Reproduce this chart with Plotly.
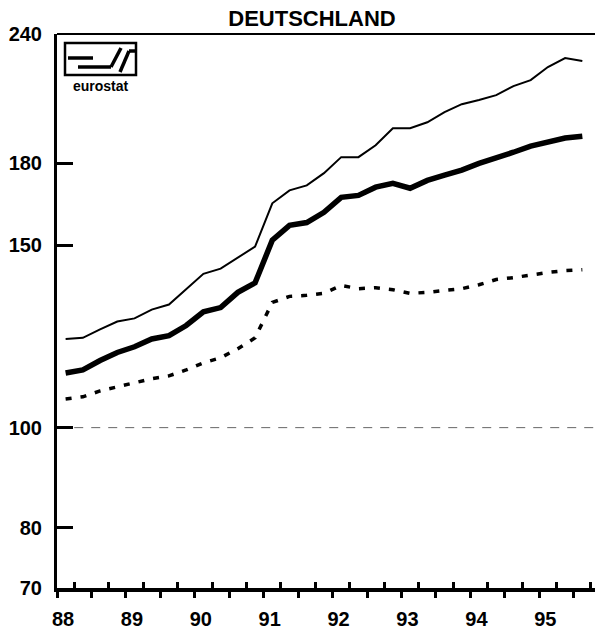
import plotly.graph_objects as go

# ---- data (quarterly, 1988 Q1 .. 1995 Q3) ----
years = [1988, 1989, 1990, 1991, 1992, 1993, 1994, 1995]
year_labels = ["88", "89", "90", "91", "92", "93", "94", "95"]
quarters = [f"{y} Q{q}" for y in years for q in (1, 2, 3, 4)][:31]

series_upper = [121.8, 122.1, 124.4, 126.6, 127.5, 130.0, 131.5, 136.2, 140.8, 142.4,
                146.0, 149.6, 164.7, 169.5, 171.4, 176.1, 182.5, 182.5, 187.4, 194.6,
                194.6, 197.2, 201.7, 205.3, 207.2, 209.5, 213.7, 216.6, 223.0, 227.5, 226.0]
series_main = [112.9, 113.7, 116.1, 118.2, 119.7, 121.8, 122.7, 125.5, 129.4, 130.6,
               135.1, 138.0, 151.7, 156.8, 157.8, 161.4, 166.9, 167.6, 170.7, 172.2,
               170.3, 173.3, 175.3, 177.3, 180.0, 182.1, 184.5, 187.0, 188.7, 190.4, 191.2]
series_lower = [106.6, 107.1, 108.5, 109.5, 110.5, 111.5, 112.2, 113.7, 115.5, 116.8,
                119.2, 122.1, 132.1, 133.9, 134.2, 134.8, 137.2, 136.2, 136.5, 135.9,
                134.8, 135.1, 135.7, 136.2, 137.4, 139.0, 139.6, 140.5, 141.2, 141.8, 142.1]

y_ticks = [70, 80, 100, 150, 180, 240]
y_tick_labels = ["70", "80", "100", "150", "180", "240"]
base_value = 100
title_text = "DEUTSCHLAND"


def quarter_pos(label):
    y, q = label.split(" Q")
    return int(y) + (int(q) - 0.5) / 4.0


x = [quarter_pos(q) for q in quarters]
x_range = [1988.0, 1995.925]

fig = go.Figure()

fig.add_trace(go.Scatter(x=[1988.25, x_range[1]], y=[base_value, base_value], mode="lines",
                         line=dict(color="#666666", width=1, dash="9px,8px"),
                         hoverinfo="skip", showlegend=False))
fig.add_trace(go.Scatter(x=x, y=series_lower, mode="lines",
                         line=dict(color="black", width=3.5, dash="6px,9px"),
                         showlegend=False))
fig.add_trace(go.Scatter(x=x, y=series_upper, mode="lines",
                         line=dict(color="black", width=2),
                         showlegend=False))
fig.add_trace(go.Scatter(x=x, y=series_main, mode="lines",
                         line=dict(color="black", width=5.5),
                         showlegend=False))

major_vals, major_text = [], []
for yr, lab in zip(years, year_labels):
    major_vals += [yr, yr + 0.5]
    major_text += [lab, ""]
minor_vals = [yr + d for yr in years for d in (0.25, 0.75)]

# page has an 8px body margin; figure coordinates = page coordinates - 8
OFF = 8
W, H = 603 - OFF, 633 - OFF
L, R, T, B = 57 - OFF, 603 - OFF, 34 - OFF, 588 - OFF


def px(xp):  # page px -> paper
    return (xp - OFF - L) / (R - L)


def py(yp):
    return (B - (yp - OFF)) / (B - T)


logo_line = dict(color="black", width=3.5)
shapes = [
    dict(type="line", xref="paper", yref="paper", x0=0, x1=1, y0=1, y1=1,
         line=dict(color="black", width=2)),
    # eurostat logo
    dict(type="rect", xref="paper", yref="paper", x0=px(65), x1=px(136), y0=py(75), y1=py(43),
         line=dict(color="black", width=2.5)),
    dict(type="line", xref="paper", yref="paper", x0=px(68), x1=px(93), y0=py(58), y1=py(58),
         line=logo_line),
    dict(type="line", xref="paper", yref="paper", x0=px(78), x1=px(111), y0=py(67), y1=py(67),
         line=logo_line),
    dict(type="line", xref="paper", yref="paper", x0=px(111), x1=px(121), y0=py(67), y1=py(48),
         line=logo_line),
    dict(type="line", xref="paper", yref="paper", x0=px(120), x1=px(129), y0=py(72), y1=py(51),
         line=logo_line),
    dict(type="line", xref="paper", yref="paper", x0=px(129), x1=px(136), y0=py(51), y1=py(51),
         line=logo_line),
]

annotations = [
    dict(text="<b>eurostat</b>", xref="paper", yref="paper", x=px(100.5), y=py(86),
         showarrow=False, font=dict(family="Liberation Sans, Arial", size=14, color="black"),
         xanchor="center", yanchor="middle"),
]

fig.update_layout(
    width=W, height=H,
    margin=dict(l=L, r=W - R, t=T, b=H - B, autoexpand=False),
    paper_bgcolor="white", plot_bgcolor="white",
    title=dict(text=f"<b>{title_text}</b>", x=(312 - OFF) / W, xanchor="center",
               y=1 - (18 - OFF) / H, yanchor="middle",
               font=dict(family="Liberation Sans, Arial", size=22, color="black")),
    font=dict(family="Liberation Sans, Arial", color="black"),
    shapes=shapes,
    annotations=annotations,
    xaxis=dict(range=x_range, showgrid=False, zeroline=False,
               showline=True, linecolor="black", linewidth=4,
               tickvals=major_vals, ticktext=major_text,
               ticks="outside", ticklen=6, tickwidth=3, tickcolor="black",
               ticklabelshift=6, ticklabelstandoff=4,
               tickfont=dict(size=20, family="Liberation Sans, Arial", color="black", weight="bold"),
               minor=dict(tickvals=minor_vals, ticks="inside", ticklen=6, tickwidth=3,
                          tickcolor="black", showgrid=False)),
    yaxis=dict(type="log", range=[1.8451, 2.3802], showgrid=False, zeroline=False,
               showline=True, linecolor="black", linewidth=3,
               tickvals=y_ticks, ticktext=y_tick_labels,
               ticks="inside", ticklen=16, tickwidth=3, tickcolor="black",
               ticklabelstandoff=8,
               tickfont=dict(size=20, family="Liberation Sans, Arial", color="black", weight="bold")),
)

fig.write_html("out.html")
